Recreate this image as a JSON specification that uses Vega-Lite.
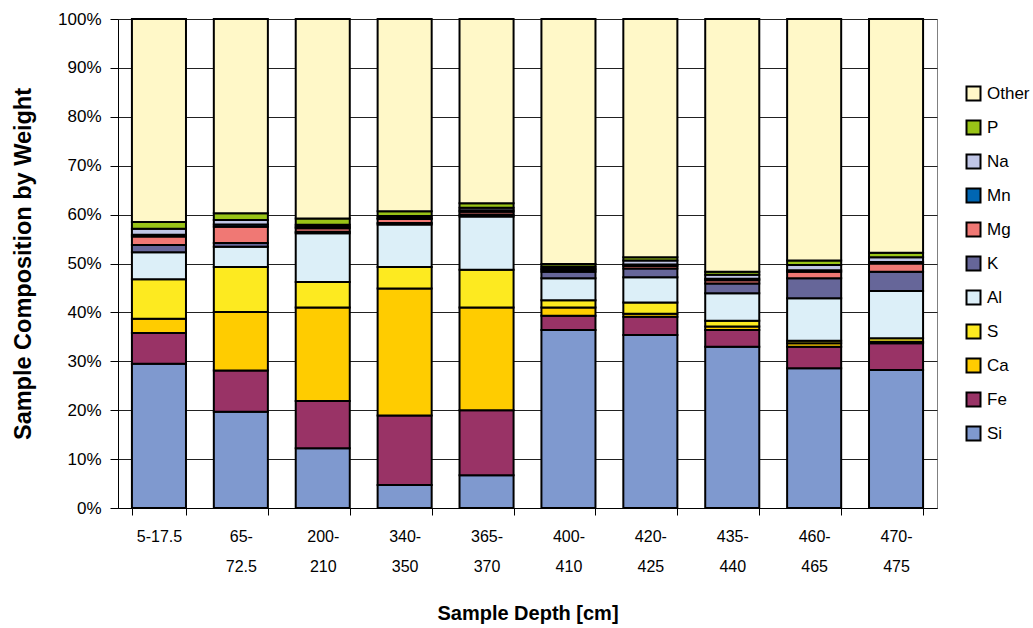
{
  "$schema": "https://vega.github.io/schema/vega-lite/v6.json",
  "width": 819,
  "height": 489,
  "autosize": "none",
  "padding": {"left": 118, "top": 19, "right": 96, "bottom": 120},
  "background": "white",
  "config": {
    "font": "Liberation Sans",
    "view": {"stroke": "#808080", "strokeWidth": 1}
  },
  "data": {
    "values": [
      {"depth": "5-17.5", "el": "Si", "pct": 29.5},
      {"depth": "5-17.5", "el": "Fe", "pct": 6.3},
      {"depth": "5-17.5", "el": "Ca", "pct": 2.9},
      {"depth": "5-17.5", "el": "S", "pct": 8.1},
      {"depth": "5-17.5", "el": "Al", "pct": 5.5},
      {"depth": "5-17.5", "el": "K", "pct": 1.5},
      {"depth": "5-17.5", "el": "Mg", "pct": 1.7},
      {"depth": "5-17.5", "el": "Mn", "pct": 0.4},
      {"depth": "5-17.5", "el": "Na", "pct": 1.2},
      {"depth": "5-17.5", "el": "P", "pct": 1.4},
      {"depth": "5-17.5", "el": "Other", "pct": 41.5},

      {"depth": "65-72.5", "el": "Si", "pct": 19.7},
      {"depth": "65-72.5", "el": "Fe", "pct": 8.4},
      {"depth": "65-72.5", "el": "Ca", "pct": 12.0},
      {"depth": "65-72.5", "el": "S", "pct": 9.2},
      {"depth": "65-72.5", "el": "Al", "pct": 4.1},
      {"depth": "65-72.5", "el": "K", "pct": 0.8},
      {"depth": "65-72.5", "el": "Mg", "pct": 3.3},
      {"depth": "65-72.5", "el": "Mn", "pct": 0.5},
      {"depth": "65-72.5", "el": "Na", "pct": 0.9},
      {"depth": "65-72.5", "el": "P", "pct": 1.4},
      {"depth": "65-72.5", "el": "Other", "pct": 39.7},

      {"depth": "200-210", "el": "Si", "pct": 12.2},
      {"depth": "200-210", "el": "Fe", "pct": 9.7},
      {"depth": "200-210", "el": "Ca", "pct": 19.1},
      {"depth": "200-210", "el": "S", "pct": 5.2},
      {"depth": "200-210", "el": "Al", "pct": 10.0},
      {"depth": "200-210", "el": "K", "pct": 0.3},
      {"depth": "200-210", "el": "Mg", "pct": 0.7},
      {"depth": "200-210", "el": "Mn", "pct": 0.3},
      {"depth": "200-210", "el": "Na", "pct": 0.4},
      {"depth": "200-210", "el": "P", "pct": 1.3},
      {"depth": "200-210", "el": "Other", "pct": 40.8},

      {"depth": "340-350", "el": "Si", "pct": 4.7},
      {"depth": "340-350", "el": "Fe", "pct": 14.2},
      {"depth": "340-350", "el": "Ca", "pct": 26.0},
      {"depth": "340-350", "el": "S", "pct": 4.4},
      {"depth": "340-350", "el": "Al", "pct": 8.7},
      {"depth": "340-350", "el": "K", "pct": 0.3},
      {"depth": "340-350", "el": "Mg", "pct": 0.8},
      {"depth": "340-350", "el": "Mn", "pct": 0.2},
      {"depth": "340-350", "el": "Na", "pct": 0.4},
      {"depth": "340-350", "el": "P", "pct": 1.0},
      {"depth": "340-350", "el": "Other", "pct": 39.3},

      {"depth": "365-370", "el": "Si", "pct": 6.7},
      {"depth": "365-370", "el": "Fe", "pct": 13.3},
      {"depth": "365-370", "el": "Ca", "pct": 21.0},
      {"depth": "365-370", "el": "S", "pct": 7.7},
      {"depth": "365-370", "el": "Al", "pct": 10.9},
      {"depth": "365-370", "el": "K", "pct": 0.4},
      {"depth": "365-370", "el": "Mg", "pct": 0.6},
      {"depth": "365-370", "el": "Mn", "pct": 0.3},
      {"depth": "365-370", "el": "Na", "pct": 0.5},
      {"depth": "365-370", "el": "P", "pct": 0.9},
      {"depth": "365-370", "el": "Other", "pct": 37.7},

      {"depth": "400-410", "el": "Si", "pct": 36.4},
      {"depth": "400-410", "el": "Fe", "pct": 2.9},
      {"depth": "400-410", "el": "Ca", "pct": 1.7},
      {"depth": "400-410", "el": "S", "pct": 1.5},
      {"depth": "400-410", "el": "Al", "pct": 4.5},
      {"depth": "400-410", "el": "K", "pct": 1.3},
      {"depth": "400-410", "el": "Mg", "pct": 0.4},
      {"depth": "400-410", "el": "Mn", "pct": 0.3},
      {"depth": "400-410", "el": "Na", "pct": 0.4},
      {"depth": "400-410", "el": "P", "pct": 0.5},
      {"depth": "400-410", "el": "Other", "pct": 50.1},

      {"depth": "420-425", "el": "Si", "pct": 35.4},
      {"depth": "420-425", "el": "Fe", "pct": 3.7},
      {"depth": "420-425", "el": "Ca", "pct": 0.6},
      {"depth": "420-425", "el": "S", "pct": 2.3},
      {"depth": "420-425", "el": "Al", "pct": 5.2},
      {"depth": "420-425", "el": "K", "pct": 1.8},
      {"depth": "420-425", "el": "Mg", "pct": 0.5},
      {"depth": "420-425", "el": "Mn", "pct": 0.3},
      {"depth": "420-425", "el": "Na", "pct": 0.8},
      {"depth": "420-425", "el": "P", "pct": 0.7},
      {"depth": "420-425", "el": "Other", "pct": 48.7},

      {"depth": "435-440", "el": "Si", "pct": 33.0},
      {"depth": "435-440", "el": "Fe", "pct": 3.4},
      {"depth": "435-440", "el": "Ca", "pct": 0.7},
      {"depth": "435-440", "el": "S", "pct": 1.2},
      {"depth": "435-440", "el": "Al", "pct": 5.6},
      {"depth": "435-440", "el": "K", "pct": 2.0},
      {"depth": "435-440", "el": "Mg", "pct": 0.7},
      {"depth": "435-440", "el": "Mn", "pct": 0.3},
      {"depth": "435-440", "el": "Na", "pct": 0.8},
      {"depth": "435-440", "el": "P", "pct": 0.6},
      {"depth": "435-440", "el": "Other", "pct": 51.7},

      {"depth": "460-465", "el": "Si", "pct": 28.6},
      {"depth": "460-465", "el": "Fe", "pct": 4.4},
      {"depth": "460-465", "el": "Ca", "pct": 0.7},
      {"depth": "460-465", "el": "S", "pct": 0.5},
      {"depth": "460-465", "el": "Al", "pct": 8.7},
      {"depth": "460-465", "el": "K", "pct": 4.1},
      {"depth": "460-465", "el": "Mg", "pct": 1.3},
      {"depth": "460-465", "el": "Mn", "pct": 0.3},
      {"depth": "460-465", "el": "Na", "pct": 1.1},
      {"depth": "460-465", "el": "P", "pct": 0.9},
      {"depth": "460-465", "el": "Other", "pct": 49.4},

      {"depth": "470-475", "el": "Si", "pct": 28.2},
      {"depth": "470-475", "el": "Fe", "pct": 5.5},
      {"depth": "470-475", "el": "Ca", "pct": 0.3},
      {"depth": "470-475", "el": "S", "pct": 0.7},
      {"depth": "470-475", "el": "Al", "pct": 9.7},
      {"depth": "470-475", "el": "K", "pct": 3.9},
      {"depth": "470-475", "el": "Mg", "pct": 1.7},
      {"depth": "470-475", "el": "Mn", "pct": 0.3},
      {"depth": "470-475", "el": "Na", "pct": 1.0},
      {"depth": "470-475", "el": "P", "pct": 0.9},
      {"depth": "470-475", "el": "Other", "pct": 47.8}
    ]
  },
  "transform": [
    {"calculate": "indexof(['Si','Fe','Ca','S','Al','K','Mg','Mn','Na','P','Other'], datum.el)", "as": "stackIdx"}
  ],
  "mark": {"type": "bar", "stroke": "black", "strokeWidth": 2},
  "encoding": {
    "x": {
      "field": "depth",
      "type": "nominal",
      "sort": null,
      "scale": {"paddingInner": 0.34, "paddingOuter": 0.17},
      "axis": {
        "title": "Sample Depth [cm]",
        "titleFont": "Liberation Sans",
        "titleFontSize": 20,
        "titleFontWeight": "bold",
        "titleColor": "black",
        "titlePadding": 29,
        "labelAngle": 0,
        "labelFontSize": 16,
        "labelColor": "black",
        "labelPadding": 13,
        "labelLineHeight": 30,
        "labelExpr": "isString(datum.value) ? (datum.value == '5-17.5' ? [datum.value] : [substring(datum.value, 0, indexof(datum.value, '-') + 1), substring(datum.value, indexof(datum.value, '-') + 1)]) : ''",
        "tickBand": "extent",
        "tickSize": 7,
        "tickColor": "black",
        "domainColor": "black",
        "grid": false
      }
    },
    "y": {
      "field": "pct",
      "type": "quantitative",
      "stack": "zero",
      "scale": {"domain": [0, 100], "nice": false},
      "axis": {
        "title": "Sample Composition by Weight",
        "titleFont": "Liberation Sans",
        "titleFontSize": 23.5,
        "titleFontWeight": "bold",
        "titleColor": "black",
        "titlePadding": 22,
        "values": [0, 10, 20, 30, 40, 50, 60, 70, 80, 90, 100],
        "labelExpr": "datum.value + '%'",
        "labelFontSize": 17,
        "labelColor": "black",
        "labelPadding": 9,
        "tickSize": 8,
        "tickColor": "black",
        "domainColor": "black",
        "grid": true,
        "gridColor": "#222222",
        "gridWidth": 1,
        "gridOpacity": 1
      }
    },
    "color": {
      "field": "el",
      "type": "nominal",
      "scale": {
        "domain": ["Other", "P", "Na", "Mn", "Mg", "K", "Al", "S", "Ca", "Fe", "Si"],
        "range": ["#FFF8C8", "#99C317", "#C0C6E6", "#0066B3", "#F07874", "#666699", "#DCEFF8", "#FDEA20", "#FFCC00", "#993366", "#7F99CF"]
      },
      "legend": {
        "title": null,
        "orient": "none",
        "legendX": 847,
        "legendY": 66,
        "symbolType": "square",
        "symbolSize": 196,
        "symbolStrokeColor": "black",
        "symbolStrokeWidth": 2,
        "symbolOpacity": 1,
        "labelFontSize": 17,
        "labelColor": "black",
        "labelOffset": 5,
        "rowPadding": 11
      }
    },
    "order": {"field": "stackIdx", "type": "quantitative", "sort": "ascending"}
  }
}
